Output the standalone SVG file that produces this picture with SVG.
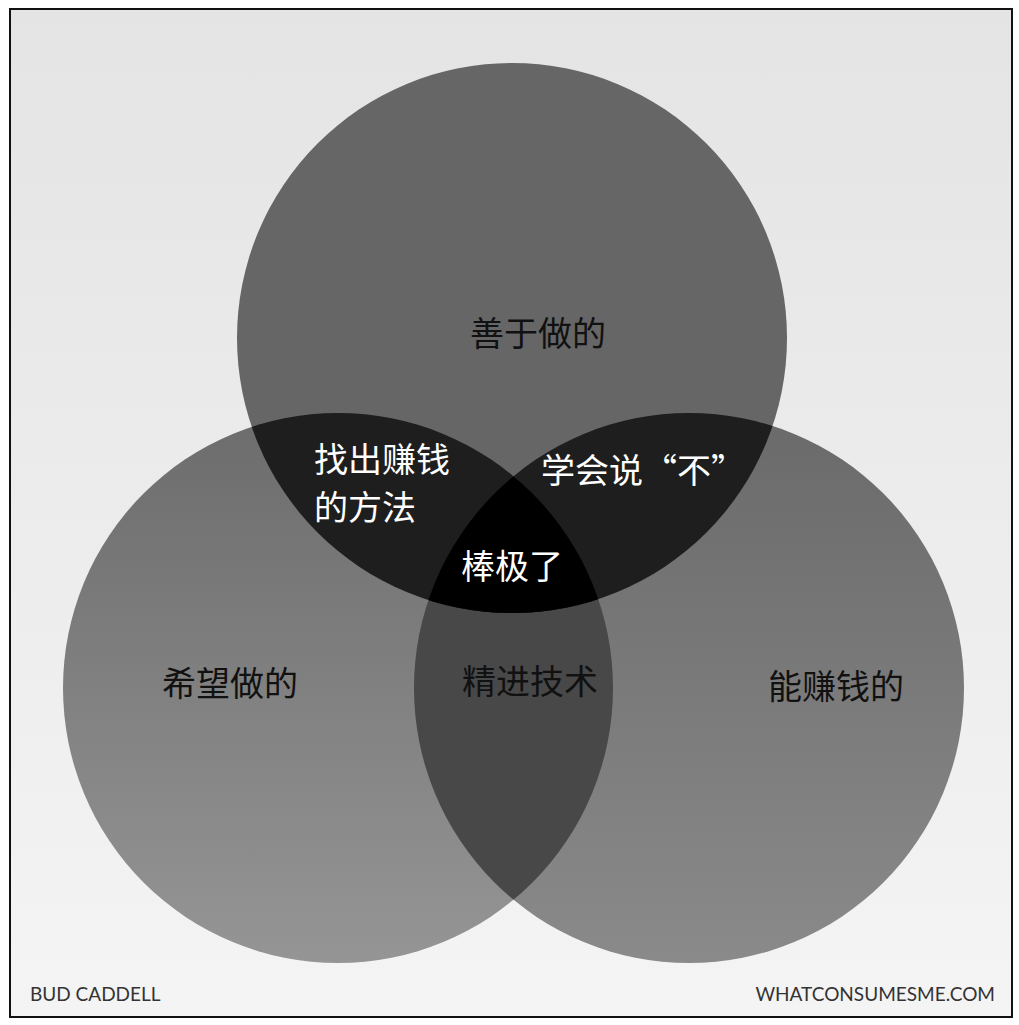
<svg xmlns="http://www.w3.org/2000/svg" width="1019" height="1025" viewBox="0 0 1019 1025">
<defs>
<linearGradient id="bg" x1="0" y1="0" x2="0" y2="1"><stop offset="0" stop-color="#e4e4e4"/><stop offset="1" stop-color="#f4f4f4"/></linearGradient>
<linearGradient id="gl" x1="0" y1="0" x2="0" y2="1"><stop offset="0" stop-color="#6c6c6c"/><stop offset="1" stop-color="#959595"/></linearGradient>
<linearGradient id="gr" x1="0" y1="0" x2="0" y2="1"><stop offset="0" stop-color="#6a6a6a"/><stop offset="1" stop-color="#8a8a8a"/></linearGradient>
<clipPath id="cT"><circle cx="512" cy="338" r="275"/></clipPath>
<clipPath id="cL"><circle cx="338" cy="688" r="275"/></clipPath>
<style>
.t{font-family:"Noto Sans CJK SC","Noto Sans CJK JP",sans-serif;font-size:34px;fill:#111}
.w{fill:#fff}
.s{font-family:"Lato","Liberation Sans",sans-serif;font-size:19px;fill:#333}
</style>
</defs>
<rect x="0" y="0" width="1019" height="1025" fill="#fff"/>
<rect x="10" y="9" width="1002" height="1008" fill="url(#bg)" stroke="#111" stroke-width="2"/>
<g id="left"><circle cx="338" cy="688" r="275" fill="url(#gl)"/></g>
<g id="right"><circle cx="689" cy="688" r="275" fill="url(#gr)"/></g>
<g id="top"><circle cx="512" cy="338" r="275" fill="#666"/></g>
<g id="lr"><circle cx="689" cy="688" r="275" fill="#484848" clip-path="url(#cL)"/></g>
<g id="tl"><circle cx="338" cy="688" r="275" fill="#1e1e1e" clip-path="url(#cT)"/></g>
<g id="tr"><circle cx="689" cy="688" r="275" fill="#1e1e1e" clip-path="url(#cT)"/></g>
<g id="center"><g clip-path="url(#cT)"><circle cx="689" cy="688" r="275" fill="#000" clip-path="url(#cL)"/></g></g>
<g id="labels">
<text class="t" x="538" y="346" text-anchor="middle">善于做的</text>
<text class="t" x="230" y="696" text-anchor="middle">希望做的</text>
<text class="t" x="836" y="699" text-anchor="middle">能赚钱的</text>
<text class="t" x="530" y="694" text-anchor="middle">精进技术</text>
<text class="t w" x="314" y="472">找出赚钱</text>
<text class="t w" x="314" y="520">的方法</text>
<text class="t w" x="541" y="483">学会说“不”</text>
<text class="t w" x="512" y="579" text-anchor="middle">棒极了</text>
</g>
<text class="s" x="30" y="1001">BUD CADDELL</text>
<text class="s" x="995" y="1001" text-anchor="end">WHATCONSUMESME.COM</text>
</svg>
